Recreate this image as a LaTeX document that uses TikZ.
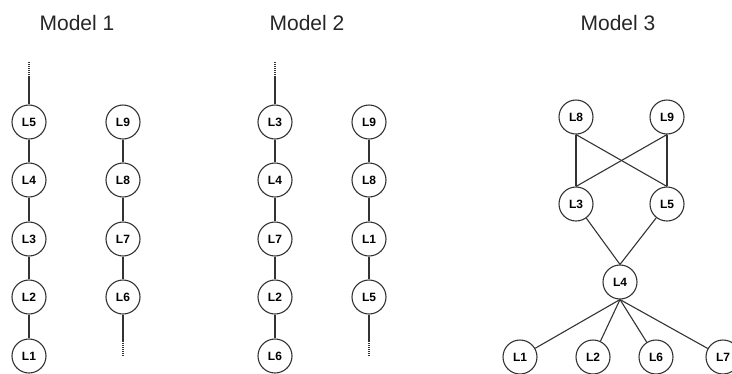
\documentclass[tikz,border=0pt]{standalone}
\usepackage{fontspec}
\setmainfont{Liberation Sans}
\definecolor{ln}{HTML}{333333}
\begin{document}
\begin{tikzpicture}[x=1pt,y=-1pt,
  lay/.style={circle,draw=ln,line width=1.1pt,minimum size=34pt,inner sep=0pt,font=\fontsize{12}{12}\selectfont\bfseries,fill=white},
  ttl/.style={font=\fontsize{21}{21}\selectfont,text=black!85},
  edge/.style={draw=ln,line width=1.1pt},
  dots/.style={draw=ln,line width=1.1pt,dash pattern=on 1pt off 1pt}]
\useasboundingbox (0,0) rectangle (732,373);
% titles
\node[ttl] (t1) at (77,23) {Model 1};
\node[ttl] (t2) at (307,23) {Model 2};
\node[ttl] (t3) at (618,23) {Model 3};
% Model 1
\node[lay] (a5) at (29,122) {L5};
\node[lay] (a4) at (29,180) {L4};
\node[lay] (a3) at (29,239) {L3};
\node[lay] (a2) at (29,297) {L2};
\node[lay] (a1) at (29,356) {L1};
\node[lay] (b9) at (123,122) {L9};
\node[lay] (b8) at (123,180) {L8};
\node[lay] (b7) at (123,239) {L7};
\node[lay] (b6) at (123,297) {L6};
\coordinate (atop) at (29,62);
\coordinate (atopm) at (29,77);
\coordinate (bbot) at (123,357);
\coordinate (bbotm) at (123,341);
\draw[dots] (atop) -- (atopm);
\draw[edge] (atopm) -- (a5) -- (a4) -- (a3) -- (a2) -- (a1);
\draw[edge] (b9) -- (b8) -- (b7) -- (b6) -- (bbotm);
\draw[dots] (bbotm) -- (bbot);
% Model 2
\node[lay] (c3) at (275,122) {L3};
\node[lay] (c4) at (275,180) {L4};
\node[lay] (c7) at (275,239) {L7};
\node[lay] (c2) at (275,297) {L2};
\node[lay] (c6) at (275,356) {L6};
\node[lay] (d9) at (369,122) {L9};
\node[lay] (d8) at (369,180) {L8};
\node[lay] (d1) at (369,239) {L1};
\node[lay] (d5) at (369,297) {L5};
\coordinate (ctop) at (275,62);
\coordinate (ctopm) at (275,77);
\coordinate (dbot) at (369,357);
\coordinate (dbotm) at (369,341);
\draw[dots] (ctop) -- (ctopm);
\draw[edge] (ctopm) -- (c3) -- (c4) -- (c7) -- (c2) -- (c6);
\draw[edge] (d9) -- (d8) -- (d1) -- (d5) -- (dbotm);
\draw[dots] (dbotm) -- (dbot);
% Model 3
\node[lay] (e8) at (576,117) {L8};
\node[lay] (e9) at (667,117) {L9};
\node[lay] (e3) at (576,204) {L3};
\node[lay] (e5) at (667,204) {L5};
\node[lay] (e4) at (620,282) {L4};
\node[lay] (f1) at (520,357) {L1};
\node[lay] (f2) at (593,357) {L2};
\node[lay] (f6) at (656,357) {L6};
\node[lay] (f7) at (723,357) {L7};
\draw[edge] (e8.south) -- (e3.north);
\draw[edge] (e8.south) -- (e5.north);
\draw[edge] (e9.south) -- (e3.north);
\draw[edge] (e9.south) -- (e5.north);
\draw[edge] (e3) -- (e4.north);
\draw[edge] (e5) -- (e4.north);
\draw[edge] (e4.south) -- (f1);
\draw[edge] (e4.south) -- (f2);
\draw[edge] (e4.south) -- (f6);
\draw[edge] (e4.south) -- (f7);
\end{tikzpicture}
\end{document}
